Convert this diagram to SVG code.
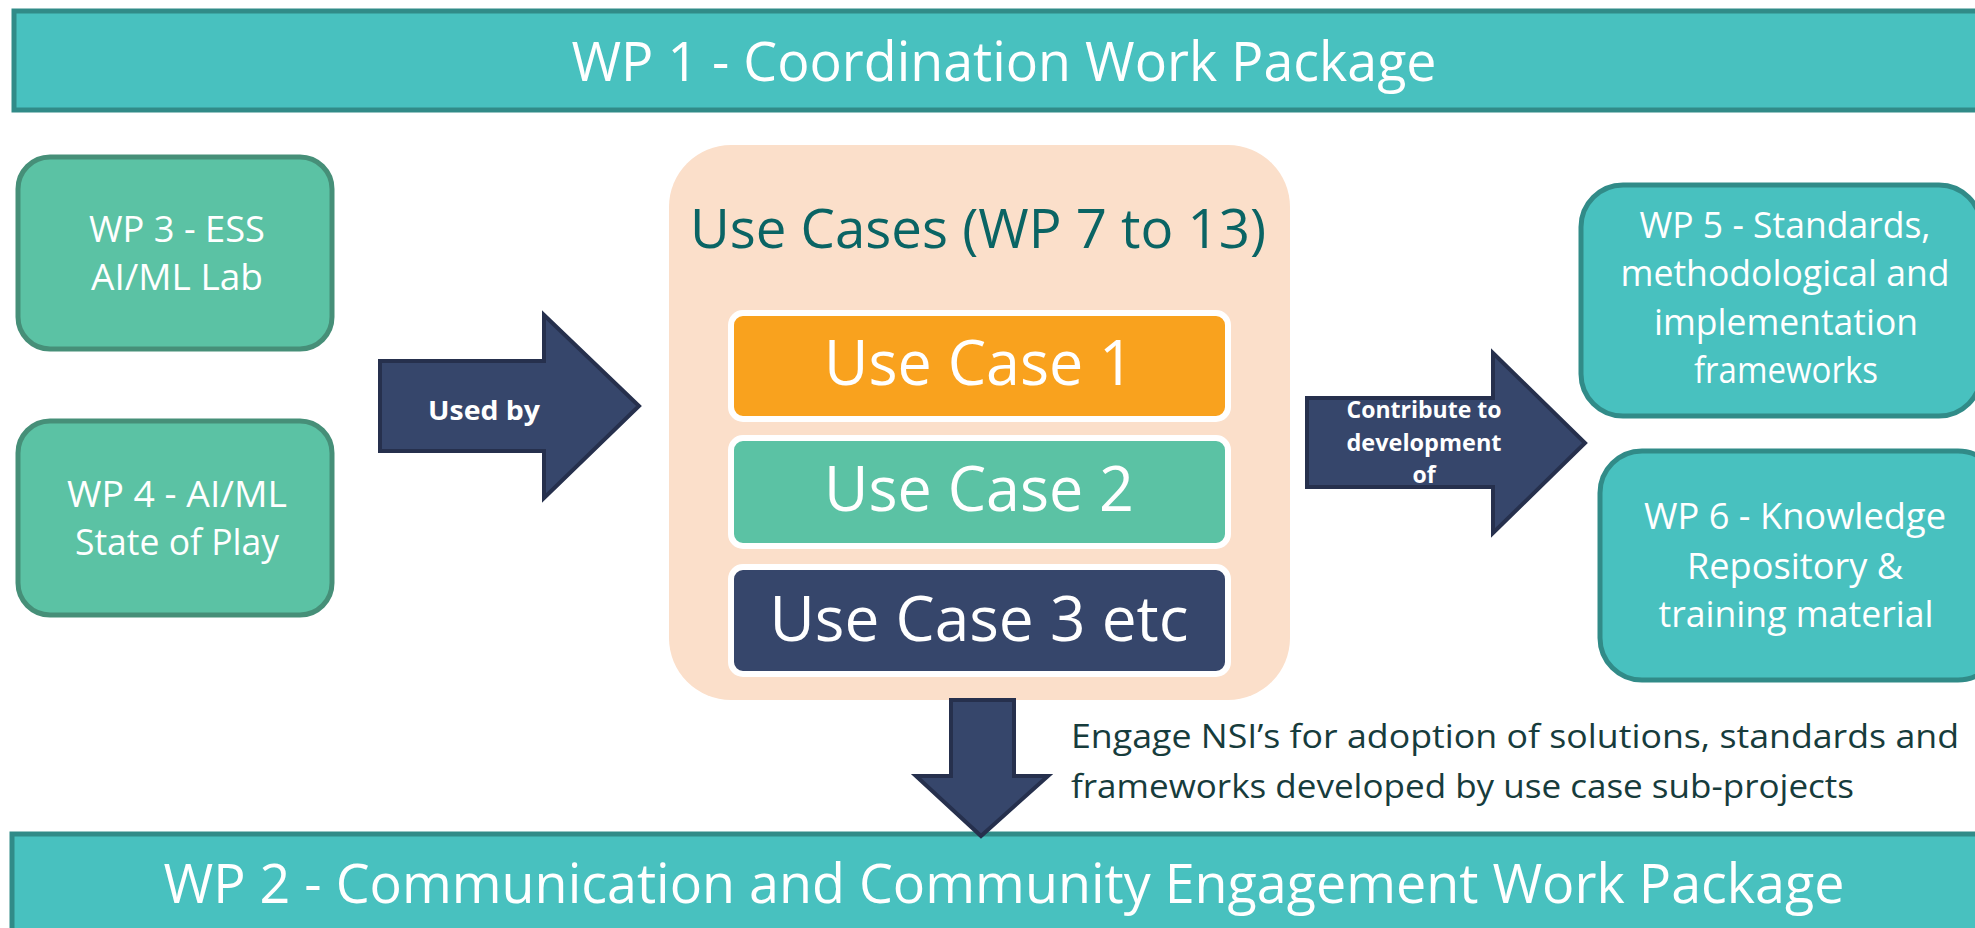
<svg xmlns="http://www.w3.org/2000/svg" width="1975" height="928" viewBox="0 0 1975 928">
<style>
.t{font-family:"Open Sans","Liberation Sans",sans-serif;fill:#fff;text-anchor:middle}
.b{font-weight:bold}
.bar{fill:#48C1BF;stroke:#318B88;stroke-width:5}
.grn{fill:#5BC2A4;stroke:#468F78;stroke-width:5}
.tea{fill:#48C1BF;stroke:#318B88;stroke-width:5}
.arr{fill:#36466B;stroke:#26304D;stroke-width:4;stroke-linejoin:miter}
.uc{stroke:#fff;stroke-width:6}
</style>
<rect width="1975" height="928" fill="#fff"/>
<g id="wp1">
<rect class="bar" x="14" y="11" width="1990" height="99"/>
<text class="t" x="1004" y="81" font-size="54" textLength="865" lengthAdjust="spacingAndGlyphs">WP 1 - Coordination Work Package</text>
</g>
<g id="wp2">
<rect class="bar" x="12" y="834" width="1990" height="110"/>
<text class="t" x="1004" y="903" font-size="55" textLength="1681" lengthAdjust="spacingAndGlyphs">WP 2 - Communication and Community Engagement Work Package</text>
</g>
<g id="wp3">
<rect class="grn" x="18" y="157" width="314" height="192" rx="32"/>
<text class="t" x="177" y="242" font-size="36" textLength="176" lengthAdjust="spacingAndGlyphs">WP 3 - ESS</text>
<text class="t" x="177" y="290" font-size="36" textLength="172" lengthAdjust="spacingAndGlyphs">AI/ML Lab</text>
</g>
<g id="wp4">
<rect class="grn" x="18" y="421" width="314" height="194" rx="32"/>
<text class="t" x="177" y="507" font-size="36" textLength="220" lengthAdjust="spacingAndGlyphs">WP 4 - AI/ML</text>
<text class="t" x="177" y="555" font-size="36" textLength="204" lengthAdjust="spacingAndGlyphs">State of Play</text>
</g>
<g id="usecases">
<rect x="669" y="145" width="621" height="555" rx="62" fill="#FBDFCA"/>
<text class="t" x="978" y="248" font-size="54" style="fill:#0A6464" textLength="576" lengthAdjust="spacingAndGlyphs">Use Cases (WP 7 to 13)</text>
</g>
<g id="uc1">
<rect class="uc" x="731" y="313" width="497" height="106" rx="12" fill="#F9A21E"/>
<text class="t" x="979" y="385" font-size="62" textLength="310" lengthAdjust="spacingAndGlyphs">Use Case 1</text>
</g>
<g id="uc2">
<rect class="uc" x="731" y="438" width="497" height="108" rx="12" fill="#5BC2A4"/>
<text class="t" x="979" y="511" font-size="62" textLength="310" lengthAdjust="spacingAndGlyphs">Use Case 2</text>
</g>
<g id="uc3">
<rect class="uc" x="731" y="567" width="497" height="107" rx="12" fill="#36466B"/>
<text class="t" x="979" y="641" font-size="62" textLength="419" lengthAdjust="spacingAndGlyphs">Use Case 3 etc</text>
</g>
<g id="wp5">
<rect class="tea" x="1581" y="185" width="400" height="231" rx="42"/>
<text class="t" x="1785" y="238" font-size="36" textLength="291" lengthAdjust="spacingAndGlyphs">WP 5 - Standards,</text>
<text class="t" x="1785" y="286" font-size="36" textLength="329" lengthAdjust="spacingAndGlyphs">methodological and</text>
<text class="t" x="1786" y="335" font-size="36" textLength="264" lengthAdjust="spacingAndGlyphs">implementation</text>
<text class="t" x="1786" y="383" font-size="36" textLength="184" lengthAdjust="spacingAndGlyphs">frameworks</text>
</g>
<g id="wp6">
<rect class="tea" x="1600" y="451" width="400" height="229" rx="42"/>
<text class="t" x="1795" y="529" font-size="36" textLength="302" lengthAdjust="spacingAndGlyphs">WP 6 - Knowledge</text>
<text class="t" x="1795" y="579" font-size="36" textLength="216" lengthAdjust="spacingAndGlyphs">Repository &amp;</text>
<text class="t" x="1796" y="627" font-size="36" textLength="275" lengthAdjust="spacingAndGlyphs">training material</text>
</g>
<g id="connectors">
<g id="used-by">
<polygon class="arr" points="380,361 544,361 544,315 639,406 544,498 544,451 380,451"/>
<text class="t b" x="484" y="420" font-size="27" textLength="112" lengthAdjust="spacingAndGlyphs">Used by</text>
</g>
<g id="contribute">
<polygon class="arr" points="1307,398 1493,398 1493,353 1585,443 1493,533 1493,487 1307,487"/>
<text class="t b" x="1424" y="418" font-size="23" textLength="155" lengthAdjust="spacingAndGlyphs">Contribute to</text>
<text class="t b" x="1424" y="451" font-size="23" textLength="155" lengthAdjust="spacingAndGlyphs">development</text>
<text class="t b" x="1424" y="483" font-size="23">of</text>
</g>
<g id="engage">
<polygon class="arr" points="951,700 1014,700 1014,776 1048,776 981,836 916,776 951,776"/>
<text x="1071" y="748" font-family="Open Sans, Liberation Sans, sans-serif" font-size="32" fill="#173C3C" textLength="888" lengthAdjust="spacingAndGlyphs">Engage NSI’s for adoption of solutions, standards and</text>
<text x="1071" y="798" font-family="Open Sans, Liberation Sans, sans-serif" font-size="32" fill="#173C3C" textLength="783" lengthAdjust="spacingAndGlyphs">frameworks developed by use case sub-projects</text>
</g>
</g>
</svg>
